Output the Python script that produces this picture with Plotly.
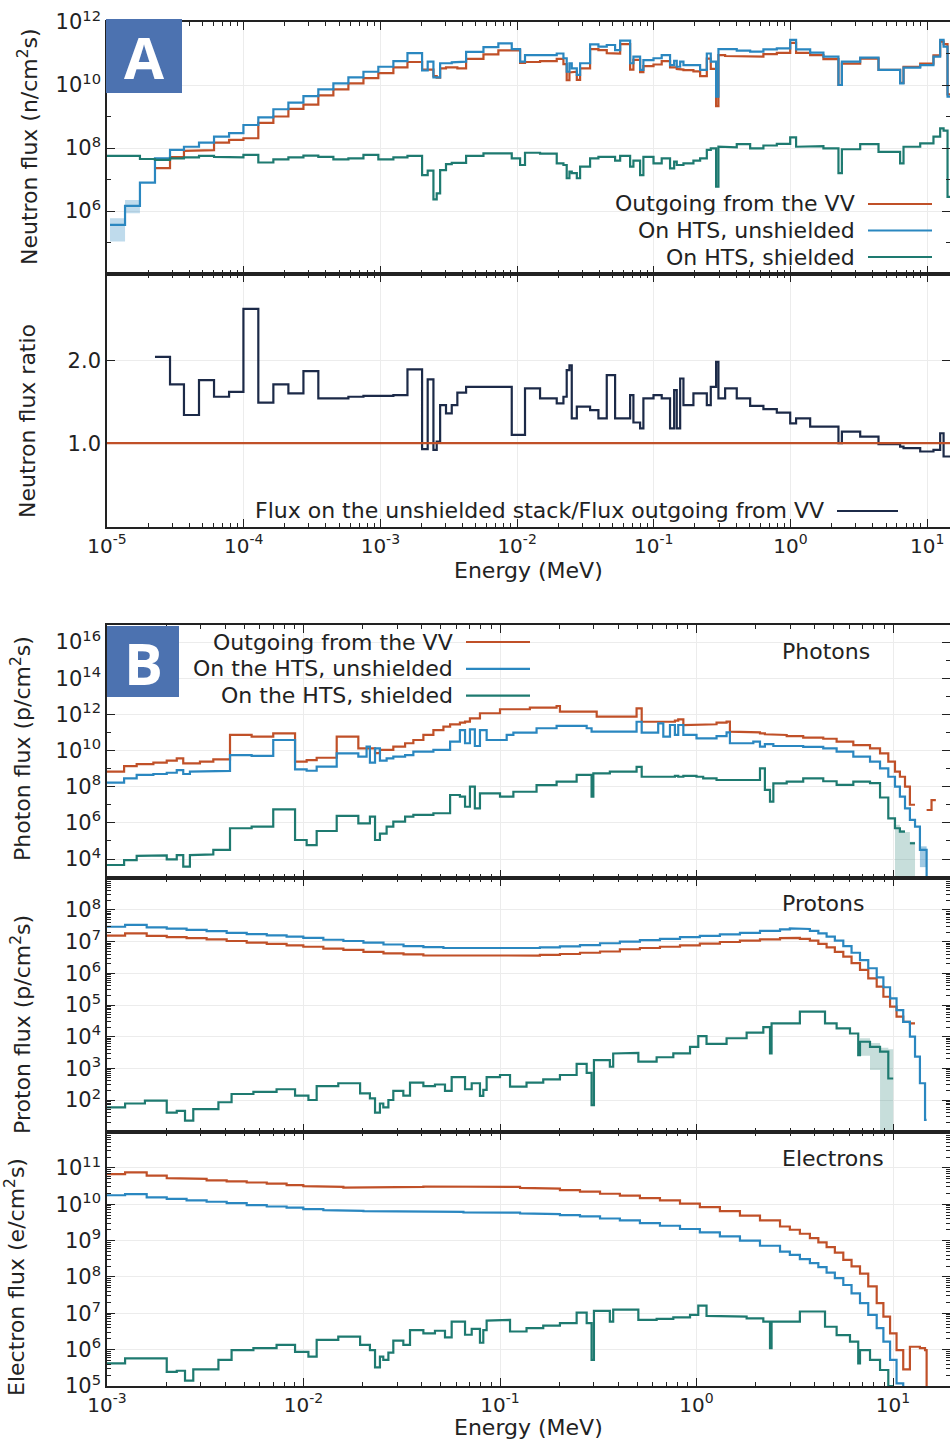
import plotly.graph_objects as go

# ------------------------------------------------------------------
# Panel A - neutrons.  Energies are log10(E / MeV) bin edges,
# fluxes are log10(flux) per bin (None = no tally in that bin).
# ------------------------------------------------------------------
n_edges = [-5.0, -4.978, -4.868, -4.759, -4.649, -4.539, -4.437, -4.327, -4.217, -4.107,
           -4.002, -3.893, -3.783, -3.673, -3.563, -3.454, -3.344, -3.234, -3.124, -3.015,
           -2.905, -2.802, -2.695, -2.654, -2.612, -2.588, -2.563, -2.52, -2.478, -2.437,
           -2.373, -2.246, -2.137, -2.039, -1.978, -1.942, -1.832, -1.71, -1.661, -1.637,
           -1.617, -1.6, -1.563, -1.539, -1.466, -1.405, -1.344, -1.283, -1.246, -1.173,
           -1.149, -1.1, -1.076, -1.002, -0.942, -0.881, -0.851, -0.832, -0.807, -0.783,
           -0.71, -0.661, -0.612, -0.583, -0.544, -0.527, -0.478, -0.393, -0.295, -0.198,
           -0.1, -0.002, 0.041, 0.144, 0.241, 0.351, 0.376, 0.51, 0.644, 0.802,
           0.827, 0.949, 1.046, 1.095, 1.12, 1.149, 1.167]

n_vv = [None, None, None, None, 7.36, 7.71, 7.91, 7.93, 8.17, 8.26,
        8.31, 8.80, 9.0, 9.24, 9.38, 9.67, 9.86, 10.05, 10.22, 10.38,
        10.56, 10.73, 10.49, 10.49, 10.28, 10.23, 10.53, 10.56, 10.56, 10.53,
        10.83, 10.97, 11.10, 11.10, 10.70, 10.73, 10.76, 10.83, 10.66, 10.15,
        10.40, 10.42, 10.16, 10.53, 11.14, 11.11, 11.01, 11.0, 11.30, 10.49,
        10.80, 10.41, 10.60, 10.65, 10.76, 10.56, 10.56, 10.51, 10.49, 10.47,
        10.43, 10.28, 10.84, 10.51, 9.33, 10.95, 10.92, 10.90, 10.90, 10.98,
        11.02, 11.34, 11.02, 10.95, 10.82, 10.0, 10.68, 10.84, 10.48, 10.07,
        10.58, 10.68, 10.94, 11.38, 11.30, 9.7]

n_unsh = [None, 5.56, 6.16, 6.90, 7.67, 7.94, 8.04, 8.17, 8.36, 8.47,
          8.73, 8.97, 9.23, 9.44, 9.65, 9.86, 10.05, 10.24, 10.42, 10.58,
          10.76, 11.01, 10.46, 10.74, 10.24, 10.24, 10.69, 10.69, 10.72, 10.74,
          11.05, 11.20, 11.32, 11.14, 10.74, 10.95, 10.95, 11.0, 10.85, 10.42,
          10.69, 10.53, 10.32, 10.69, 11.29, 11.22, 11.27, 11.11, 11.41, 10.69,
          10.9, 10.48, 10.79, 10.85, 10.95, 10.63, 10.77, 10.58, 10.74, 10.63,
          10.63, 10.48, 11.0, 10.74, 9.63, 11.14, 11.14, 11.09, 11.06, 11.13,
          11.16, 11.43, 11.13, 11.03, 10.9, 10.0, 10.74, 10.87, 10.48, 10.05,
          10.55, 10.63, 10.9, 11.43, 11.22, 9.63]

n_sh = [7.75, 7.75, 7.75, 7.65, 7.62, 7.67, 7.70, 7.75, 7.72, 7.70,
        7.78, 7.54, 7.64, 7.70, 7.76, 7.72, 7.64, 7.67, 7.78, 7.64,
        7.70, 7.75, 7.14, 7.28, 6.37, 6.56, 7.30, 7.49, 7.53, 7.53,
        7.75, 7.83, 7.83, 7.67, 7.46, 7.85, 7.82, 7.51, 7.46, 7.04,
        7.25, 7.2, 7.04, 7.41, 7.67, 7.72, 7.72, 7.6, 7.75, 7.41,
        7.6, 7.14, 7.72, 7.51, 7.67, 7.35, 7.57, 7.46, 7.46, 7.51,
        7.60, 7.67, 7.94, 7.99, 6.77, 8.04, 8.02, 8.12, 7.99, 8.08,
        8.13, 8.34, 8.04, 8.06, 7.99, 7.2, 7.96, 8.12, 7.88, 7.51,
        8.04, 8.15, 8.36, 8.62, 8.55, 6.45]

# unshielded / outgoing-from-VV flux ratio (linear)
n_ratio = [None, None, None, None, 2.04, 1.71, 1.34, 1.76, 1.56, 1.62,
           2.62, 1.49, 1.71, 1.6, 1.87, 1.54, 1.54, 1.56, 1.57, 1.57,
           1.58, 1.89, 0.93, 1.77, 0.92, 1.02, 1.46, 1.36, 1.46, 1.61,
           1.68, 1.68, 1.68, 1.1, 1.1, 1.66, 1.54, 1.48, 1.56, 1.88,
           1.94, 1.3, 1.44, 1.44, 1.4, 1.3, 1.82, 1.3, 1.3, 1.58,
           1.25, 1.18, 1.54, 1.58, 1.54, 1.18, 1.64, 1.18, 1.78, 1.46,
           1.6, 1.6, 1.46, 1.68, 1.98, 1.54, 1.66, 1.54, 1.45, 1.41,
           1.37, 1.24, 1.3, 1.2, 1.2, 1.0, 1.14, 1.08, 0.99, 0.96,
           0.94, 0.9, 0.92, 1.12, 0.84, 0.84]
vv_ratio_level = 1.0

# statistical-uncertainty band on the lowest unshielded bins
n_unsh_band_edges = [-4.978, -4.868, -4.759]
n_unsh_band_lo = [5.03, 5.93]
n_unsh_band_hi = [5.77, 6.35]

# ------------------------------------------------------------------
# Panel B - photons
# ------------------------------------------------------------------
g_edges = [-3.0, -2.913, -2.849, -2.764, -2.696, -2.645, -2.612, -2.578, -2.527, -2.459,
           -2.374, -2.264, -2.154, -2.043, -1.984, -1.933, -1.831, -1.721, -1.679, -1.662,
           -1.636, -1.611, -1.577, -1.543, -1.483, -1.441, -1.39, -1.339, -1.288, -1.254,
           -1.204, -1.178, -1.153, -1.128, -1.102, -1.068, -1.0, -0.966, -0.932, -0.848,
           -0.814, -0.712, -0.695, -0.61, -0.559, -0.534, -0.525, -0.508, -0.441, -0.356,
           -0.305, -0.279, -0.195, -0.169, -0.135, -0.11, -0.093, -0.067, 0.0, 0.034,
           0.102, 0.153, 0.17, 0.289, 0.323, 0.348, 0.374, 0.391, 0.459, 0.543,
           0.645, 0.713, 0.798, 0.883, 0.934, 0.976, 1.01, 1.035, 1.061, 1.086,
           1.112, 1.137, 1.171, 1.196, 1.218]

g_vv = [8.83, 9.14, 9.25, 9.33, 9.44, 9.57, 9.29, 9.29, 9.38, 9.51,
        10.86, 10.77, 10.95, 9.38, 9.47, 9.6, 10.77, 10.12, 10.12, 10.12,
        9.85, 10.03, 10.03, 10.21, 10.4, 10.58, 10.86, 11.13, 11.32, 11.45,
        11.54, 11.6, 11.78, 11.78, 12.06, 12.06, 12.28, 12.28, 12.28, 12.37,
        12.37, 12.46, 12.15, 12.15, 12.15, 12.15, 12.15, 11.87, 11.87, 11.87,
        12.33, 11.59, 11.59, 11.59, 11.59, 11.65, 11.72, 11.41, 11.41, 11.45,
        11.54, 11.6, 11.04, 11.0, 10.95, 10.9, 10.9, 10.86, 10.8, 10.71,
        10.65, 10.49, 10.3, 10.12, 9.84, 9.38, 8.83, 8.55, 8.0, 7.0,
        None, None, 6.71, 7.26]

g_unsh = [8.22, 8.46, 8.65, 8.70, 8.77, 8.92, 8.70, 8.83, 8.83, 8.87,
          9.75, 9.70, 10.58, 8.96, 8.88, 9.11, 9.84, 9.66, 10.21, 9.33,
          10.12, 9.44, 9.57, 9.66, 9.75, 9.94, 9.94, 10.03, 10.03, 10.49,
          11.13, 10.4, 11.17, 10.25, 11.13, 10.58, 10.58, 10.86, 10.99, 10.99,
          11.23, 11.36, 11.36, 11.36, 11.23, 11.04, 11.04, 11.04, 11.04, 11.04,
          11.59, 10.99, 11.5, 10.77, 11.41, 10.86, 11.41, 10.86, 10.67, 10.67,
          10.8, 11.0, 10.40, 10.49, 10.21, 10.35, 10.35, 10.25, 10.25, 10.2,
          10.12, 9.94, 9.66, 9.38, 9.01, 8.55, 8.0, 7.45, 6.8, 6.16,
          5.79, 4.5, 2.5, None]

g_sh = [3.67, 3.94, 4.17, 4.2, 3.98, 4.22, 3.58, 4.22, 4.26, 4.5,
        5.7, 5.79, 6.75, 5.05, 4.77, 5.55, 6.38, 5.97, 5.97, 6.34,
        5.05, 5.4, 5.79, 6.07, 6.34, 6.44, 6.44, 6.53, 6.53, 7.54,
        7.45, 6.89, 8.0, 6.8, 7.63, 7.63, 7.45, 7.45, 7.72, 7.72,
        8.09, 8.28, 8.28, 8.65, 8.65, 7.45, 8.74, 8.74, 8.83, 8.83,
        9.1, 8.55, 8.55, 8.55, 8.55, 8.6, 8.55, 8.6, 8.55, 8.46,
        8.37, 8.37, 8.37, 8.37, 9.01, 7.82, 7.17, 8.18, 8.28, 8.46,
        8.3, 8.1, 8.28, 8.2, 7.4, 6.25, 5.7, 5.51, None, 4.87,
        None, None, None, None]

g_sh_band_edges = [1.01, 1.035, 1.061, 1.086, 1.112]
g_sh_band_lo = [3.0, 3.0, 3.0, 3.0]
g_sh_band_hi = [5.9, 5.6, 5.5, 4.95]
g_unsh_band_edges = [1.137, 1.171]
g_unsh_band_lo = [3.55]
g_unsh_band_hi = [4.7]

# ------------------------------------------------------------------
# Panel B - protons and electrons (shared group structures)
# ------------------------------------------------------------------
c_edges = [-3.0, -2.908, -2.798, -2.696, -2.595, -2.493, -2.391, -2.289, -2.187, -2.086,
           -2.001, -1.899, -1.797, -1.695, -1.593, -1.491, -1.39, -1.288, -1.186, -1.102,
           -1.0, -0.898, -0.797, -0.695, -0.593, -0.491, -0.39, -0.288, -0.186, -0.084,
           0.017, 0.119, 0.221, 0.323, 0.425, 0.475, 0.526, 0.577, 0.62, 0.662,
           0.704, 0.747, 0.789, 0.832, 0.874, 0.917, 0.951, 0.985, 1.018, 1.052,
           1.086, 1.112, 1.137, 1.163, 1.171, 1.18]

p_vv = [7.19, 7.26, 7.18, 7.14, 7.11, 7.07, 7.02, 6.97, 6.93, 6.88,
        6.84, 6.78, 6.74, 6.68, 6.63, 6.6, 6.57, 6.55, 6.55, 6.55,
        6.55, 6.56, 6.58, 6.61, 6.65, 6.69, 6.76, 6.8, 6.84, 6.88,
        6.94, 6.99, 7.03, 7.07, 7.11, 7.12, 7.09, 7.03, 6.93, 6.82,
        6.68, 6.53, 6.32, 6.11, 5.84, 5.58, 5.26, 4.95, 4.63, 4.47,
        4.42, None, None, None, None]

p_unsh = [7.47, 7.53, 7.45, 7.41, 7.37, 7.33, 7.28, 7.24, 7.2, 7.16,
          7.12, 7.06, 7.02, 6.97, 6.91, 6.86, 6.83, 6.8, 6.79, 6.79,
          6.79, 6.8, 6.82, 6.85, 6.89, 6.95, 7.0, 7.05, 7.09, 7.14,
          7.18, 7.23, 7.28, 7.34, 7.39, 7.42, 7.4, 7.34, 7.26, 7.16,
          7.03, 6.86, 6.65, 6.42, 6.16, 5.87, 5.56, 5.21, 4.84, 4.47,
          4.0, 3.37, 2.53, 1.37, None]

e_vv = [10.83, 10.88, 10.79, 10.72, 10.70, 10.66, 10.63, 10.6, 10.57, 10.53,
        10.5, 10.48, 10.46, 10.46, 10.47, 10.48, 10.49, 10.49, 10.49, 10.49,
        10.48, 10.45, 10.43, 10.39, 10.35, 10.29, 10.24, 10.17, 10.11, 10.02,
        9.92, 9.81, 9.69, 9.56, 9.39, 9.3, 9.19, 9.07, 8.95, 8.82,
        8.67, 8.47, 8.29, 8.09, 7.74, 7.28, 6.91, 6.45, 5.99, 5.46,
        6.08, 6.08, 6.04, 5.99, 4.0]

e_unsh = [10.25, 10.28, 10.19, 10.15, 10.11, 10.07, 10.03, 9.98, 9.94, 9.91,
          9.87, 9.84, 9.82, 9.81, 9.8, 9.79, 9.79, 9.79, 9.78, 9.78,
          9.77, 9.75, 9.73, 9.7, 9.67, 9.61, 9.56, 9.48, 9.41, 9.32,
          9.23, 9.12, 9.0, 8.86, 8.7, 8.61, 8.49, 8.38, 8.27, 8.12,
          7.97, 7.78, 7.55, 7.28, 6.96, 6.59, 6.22, 5.72, 5.07, 4.0,
          None, None, None, None, None]

c_sh_edges = [-3.0, -2.908, -2.807, -2.696, -2.645, -2.603, -2.561, -2.433, -2.366, -2.255,
              -2.137, -2.043, -1.975, -1.933, -1.823, -1.712, -1.662, -1.636, -1.611, -1.594,
              -1.568, -1.543, -1.492, -1.458, -1.39, -1.331, -1.28, -1.246, -1.178, -1.144,
              -1.102, -1.085, -1.068, -1.0, -0.949, -0.865, -0.78, -0.695, -0.61, -0.559,
              -0.534, -0.522, -0.441, -0.424, -0.356, -0.296, -0.203, -0.118, -0.033, 0.009,
              0.051, 0.153, 0.255, 0.34, 0.374, 0.382, 0.526, 0.654, 0.713, 0.781,
              0.823, 0.832, 0.883, 0.934, 0.976, 1.001]

p_sh = [1.77, 1.89, 1.98, 1.6, 1.66, 1.35, 1.71, 1.93, 2.19, 2.26,
        2.34, 2.14, 2.0, 2.44, 2.53, 2.21, 2.05, 1.6, 1.89, 1.77,
        2.0, 2.29, 2.14, 2.55, 2.44, 2.49, 2.29, 2.72, 2.34, 2.53,
        2.13, 2.32, 2.72, 2.79, 2.42, 2.55, 2.65, 2.79, 3.14, 2.86,
        1.84, 3.26, 3.05, 3.47, 3.49, 3.21, 3.35, 3.47, 3.68, 4.02,
        3.77, 3.95, 4.13, 4.3, 3.47, 4.42, 4.79, 4.42, 4.26, 4.1,
        3.42, 3.84, 3.68, 3.53, 2.68]

e_sh = [5.62, 5.76, 5.76, 5.39, 5.42, 5.15, 5.46, 5.72, 5.99, 6.04,
        6.13, 5.94, 5.81, 6.27, 6.36, 6.13, 5.99, 5.51, 5.81, 5.72,
        5.92, 6.25, 6.13, 6.54, 6.45, 6.52, 6.34, 6.77, 6.41, 6.57,
        6.19, 6.54, 6.8, 6.82, 6.5, 6.59, 6.66, 6.73, 7.02, 6.73,
        5.72, 7.07, 6.77, 7.1, 7.1, 6.82, 6.85, 6.89, 6.96, 7.21,
        6.93, 6.91, 6.86, 6.77, 6.04, 6.77, 7.05, 6.63, 6.4, 6.22,
        5.62, 5.99, 5.72, 5.44, 5.0]

p_sh_band_edges = [0.832, 0.883, 0.934, 0.976, 1.001]
p_sh_band_lo = [3.4, 2.95, 1.0, 1.0]
p_sh_band_hi = [3.95, 3.8, 3.65, 3.6]

# ------------------------------------------------------------------
# styling
# ------------------------------------------------------------------
FONT = "DejaVu Sans"
INK = "#222222"
RED = "#c05028"
BLUE = "#2a87c0"
TEAL = "#1e7a70"
NAVY = "#1c2a48"
BOX = "#4c72b0"
LW = 2.2
TXT = 22
W, H = 950, 1441


def px(x):
    return x / W


def py(y):
    return 1 - y / H


def steps(edges, vals, log=True):
    """Histogram outline: one horizontal run per bin, joined by verticals."""
    assert len(edges) == len(vals) + 1, (len(edges), len(vals))
    xs, ys, open_run = [], [], False
    for i, v in enumerate(vals):
        if v is None:
            if open_run:
                xs.append(None)
                ys.append(None)
            open_run = False
            continue
        y = 10.0 ** v if log else v
        xs += [10.0 ** edges[i], 10.0 ** edges[i + 1]]
        ys += [y, y]
        open_run = True
    return xs, ys


fig = go.Figure()


def add_steps(edges, vals, color, xa, ya, log=True):
    xs, ys = steps(edges, vals, log)
    fig.add_trace(go.Scatter(x=xs, y=ys, mode="lines", xaxis=xa, yaxis=ya,
                             line=dict(color=color, width=LW),
                             showlegend=False, hoverinfo="skip"))


def add_band(edges, lo, hi, color, xa, ya):
    xu, yu = steps(edges, hi)
    xl, yl = steps(edges, lo)
    fig.add_trace(go.Scatter(x=xu + xl[::-1], y=yu + yl[::-1], mode="lines",
                             fill="toself", fillcolor=color, line=dict(width=0),
                             xaxis=xa, yaxis=ya, showlegend=False, hoverinfo="skip"))


# uncertainty bands first so the lines sit on top
add_band(n_unsh_band_edges, n_unsh_band_lo, n_unsh_band_hi, "rgba(42,135,192,0.30)", "x", "y")
add_band(g_sh_band_edges, g_sh_band_lo, g_sh_band_hi, "rgba(30,122,112,0.25)", "x3", "y3")
add_band(g_unsh_band_edges, g_unsh_band_lo, g_unsh_band_hi, "rgba(42,135,192,0.45)", "x3", "y3")
add_band(p_sh_band_edges, p_sh_band_lo, p_sh_band_hi, "rgba(30,122,112,0.25)", "x4", "y4")

# neutrons
add_steps(n_edges, n_vv, RED, "x", "y")
add_steps(n_edges, n_unsh, BLUE, "x", "y")
add_steps(n_edges, n_sh, TEAL, "x", "y")
add_steps(n_edges, n_ratio, NAVY, "x2", "y2", log=False)

# photons, protons, electrons
add_steps(g_edges, g_vv, RED, "x3", "y3")
add_steps(g_edges, g_unsh, BLUE, "x3", "y3")
add_steps(g_edges, g_sh, TEAL, "x3", "y3")
add_steps(c_edges, p_vv, RED, "x4", "y4")
add_steps(c_edges, p_unsh, BLUE, "x4", "y4")
add_steps(c_sh_edges, p_sh, TEAL, "x4", "y4")
add_steps(c_edges, e_vv, RED, "x5", "y5")
add_steps(c_edges, e_unsh, BLUE, "x5", "y5")
add_steps(c_sh_edges, e_sh, TEAL, "x5", "y5")

# ------------------------------------------------------------------
# axes
# ------------------------------------------------------------------
YTICKFONT = dict(family=FONT, size=21, color=INK)
XTICKFONT = dict(family=FONT, size=20, color=INK)
XDOM = [px(107), 1.0]


def pow_labels(ks):
    return [10.0 ** k for k in ks], [f"10<sup>{k}</sup>" for k in ks]


def sub_decades(k0, k1):
    return [m * 10.0 ** k for k in range(k0, k1 + 1) for m in range(2, 10)]


common = dict(ticks="inside", ticklen=8, tickwidth=1.3, tickcolor=INK,
              showline=True, linecolor=INK, linewidth=1.6, mirror="ticks",
              showgrid=True, gridcolor="#ececec", gridwidth=1, zeroline=False,
              automargin=False)


def xaxis(rng, anchor, show_labels, k0, k1):
    tv, tt = pow_labels(range(k0, k1 + 1))
    return dict(type="log", range=rng, domain=XDOM, anchor=anchor,
                tickmode="array", tickvals=tv, ticktext=tt, showticklabels=show_labels,
                tickfont=XTICKFONT,
                minor=dict(tickmode="array", tickvals=sub_decades(k0 - 1, k1),
                           ticks="inside", ticklen=4, tickwidth=1, tickcolor=INK,
                           showgrid=False),
                **common)


def ylog(rng, dom, anchor, label_ks, minor_vals):
    tv, tt = pow_labels(label_ks)
    return dict(type="log", range=rng, domain=dom, anchor=anchor,
                tickmode="array", tickvals=tv, ticktext=tt, tickfont=YTICKFONT,
                minor=dict(tickmode="array", tickvals=minor_vals, ticks="inside",
                           ticklen=4, tickwidth=1, tickcolor=INK, showgrid=False),
                **common)


dom_n = [py(274), py(22)]
dom_r = [py(527), py(274)]
dom_g = [py(878), py(625)]
dom_p = [py(1132), py(878)]
dom_e = [py(1386), py(1132)]

XA = [-5.0, 1.167]
XB = [-3.0, 1.29]

layout_axes = dict(
    xaxis=xaxis(XA, "y", False, -5, 1),
    xaxis2=xaxis(XA, "y2", True, -5, 1),
    xaxis3=xaxis(XB, "y3", False, -3, 1),
    xaxis4=xaxis(XB, "y4", False, -3, 1),
    xaxis5=xaxis(XB, "y5", True, -3, 1),
    yaxis=ylog([4.0, 12.0], dom_n, "x", [6, 8, 10, 12], [10.0 ** k for k in (5, 7, 9, 11)]),
    yaxis2=dict(type="linear", range=[-0.01, 3.04], domain=dom_r, anchor="x2",
                tickmode="array", tickvals=[1.0, 2.0], ticktext=["1.0", "2.0"],
                tickfont=YTICKFONT, **common),
    yaxis3=ylog([2.95, 16.94], dom_g, "x3", [4, 6, 8, 10, 12, 14, 16],
                [10.0 ** k for k in (3, 5, 7, 9, 11, 13, 15)]),
    yaxis4=ylog([0.99, 9.01], dom_p, "x4", [2, 3, 4, 5, 6, 7, 8], sub_decades(0, 8)),
    yaxis5=ylog([5.0, 11.99], dom_e, "x5", [5, 6, 7, 8, 9, 10, 11], sub_decades(4, 11)),
)

# ------------------------------------------------------------------
# annotations: axis titles, legends, panel tags
# ------------------------------------------------------------------
ann = []
shapes = []


def text(x, y, s, size=TXT, xanchor="center", angle=0, color=INK, family=FONT):
    ann.append(dict(x=px(x), y=py(y), xref="paper", yref="paper", text=s,
                    showarrow=False, xanchor=xanchor, yanchor="middle",
                    textangle=angle, font=dict(family=family, size=size, color=color)))


def sample(x0, x1, y, color):
    shapes.append(dict(type="line", xref="paper", yref="paper",
                       x0=px(x0), x1=px(x1), y0=py(y), y1=py(y),
                       line=dict(color=color, width=LW)))


text(28, 147, "Neutron flux (n/cm<sup>2</sup>s)", angle=-90)
text(27, 421, "Neutron flux ratio", angle=-90)
text(21, 749, "Photon flux (p/cm<sup>2</sup>s)", angle=-90)
text(21, 1025, "Proton flux (p/cm<sup>2</sup>s)", angle=-90)
text(15, 1277, "Electron flux (e/cm<sup>2</sup>s)", angle=-90)
text(528, 570, "Energy (MeV)")
text(528, 1427, "Energy (MeV)")

legend_a = [("Outgoing from the VV", RED), ("On HTS, unshielded", BLUE), ("On HTS, shielded", TEAL)]
for i, (lab, col) in enumerate(legend_a):
    yy = 204 + 26.5 * i
    text(857, yy, lab, xanchor="right")
    sample(868, 932, yy, col)

text(826, 511, "Flux on the unshielded stack/Flux outgoing from VV", xanchor="right")
sample(837, 898, 511, NAVY)

legend_b = [("Outgoing from the VV", RED), ("On the HTS, unshielded", BLUE), ("On the HTS, shielded", TEAL)]
for i, (lab, col) in enumerate(legend_b):
    yy = 642 + 26.8 * i
    text(455, yy, lab, xanchor="right")
    sample(466, 530, yy, col)

text(826, 651, "Photons")
text(823, 904, "Protons")
text(833, 1158, "Electrons")

# reference level of the ratio panel (VV / VV)
shapes.append(dict(type="line", xref="x2 domain", yref="y2", x0=0, x1=1,
                   y0=vv_ratio_level, y1=vv_ratio_level, line=dict(color=RED, width=LW)))

# panel tags
for (x0, y0, x1, y1, tag) in [(106, 19, 182, 93, "A"), (107, 626, 179, 697, "B")]:
    shapes.append(dict(type="rect", xref="paper", yref="paper", layer="above",
                       x0=px(x0), x1=px(x1), y0=py(y1), y1=py(y0),
                       fillcolor=BOX, line=dict(width=0)))
    text((x0 + x1) / 2, (y0 + y1) / 2 + 1, f"<b>{tag}</b>", size=58, color="white",
         family="Open Sans")

fig.update_layout(
    width=W, height=H, margin=dict(l=0, r=0, t=0, b=0),
    paper_bgcolor="white", plot_bgcolor="white", showlegend=False,
    font=dict(family=FONT, size=TXT, color=INK),
    annotations=ann, shapes=shapes, **layout_axes,
)

fig.write_html("out.html")
